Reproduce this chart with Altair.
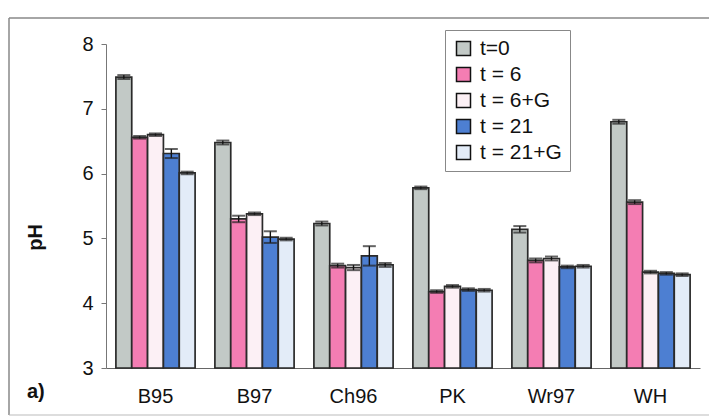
import altair as alt
import pandas as pd

sites = ["B95", "B97", "Ch96", "PK", "Wr97", "WH"]
series = ["t=0", "t = 6", "t = 6+G", "t = 21", "t = 21+G"]

t0 = [7.49, 6.48, 5.23, 5.78, 5.14, 6.80]
t6 = [6.56, 5.30, 4.58, 4.18, 4.66, 5.56]
t6g = [6.60, 5.38, 4.55, 4.26, 4.69, 4.48]
t21 = [6.31, 5.02, 4.73, 4.21, 4.56, 4.46]
t21g = [6.01, 4.99, 4.59, 4.20, 4.57, 4.44]

e_t0 = [0.03, 0.03, 0.03, 0.02, 0.05, 0.03]
e_t6 = [0.02, 0.05, 0.03, 0.02, 0.03, 0.03]
e_t6g = [0.02, 0.02, 0.04, 0.02, 0.03, 0.02]
e_t21 = [0.07, 0.09, 0.15, 0.02, 0.02, 0.02]
e_t21g = [0.02, 0.02, 0.03, 0.02, 0.02, 0.02]

colors = ["#c2c9c6", "#f47db3", "#fcf0f5", "#4d7fd2", "#e3ecf8"]

rows = []
for s, vals, errs in zip(series, [t0, t6, t6g, t21, t21g],
                         [e_t0, e_t6, e_t6g, e_t21, e_t21g]):
    for site, v, e in zip(sites, vals, errs):
        rows.append(dict(site=site, series=s, ph=v, lo=v - e, hi=v + e))
df = pd.DataFrame(rows)

FONT = "Liberation Sans"

x = alt.X("site:N", sort=sites,
          scale=alt.Scale(paddingInner=0.2, paddingOuter=0.1),
          axis=alt.Axis(title=None, labelAngle=0, labelFontSize=20, labelPadding=18,
                        ticks=False, domainColor="#666", domainWidth=1.2,
                        labelColor="#111", labelFont=FONT))
xo = alt.XOffset("series:N", sort=series)

yaxis = alt.Axis(title="pH", values=[3, 4, 5, 6, 7, 8], grid=False,
                 labelFontSize=20, labelFont=FONT, labelColor="#111",
                 labelPadding=8, tickSize=5, tickColor="#777", domainColor="#777",
                 titleFontSize=20, titleFont=FONT, titleFontWeight="bold",
                 titleColor="#111", titleX=-71, titleY=193, titleAngle=270,
                 titleAlign="center", titleBaseline="middle")
yscale = alt.Scale(domain=[3, 8], nice=False, zero=False)

base = alt.Chart(df)

bars = base.mark_bar(stroke="#2a2a2a", strokeWidth=1.7).encode(
    x=x, xOffset=xo,
    y=alt.Y("ph:Q", scale=yscale, axis=yaxis),
    y2=alt.datum(3),
    color=alt.Color("series:N", sort=series,
                    scale=alt.Scale(domain=series, range=colors),
                    legend=alt.Legend(title=None, orient="none", legendX=339, legendY=-14,
                                      symbolType="square", symbolSize=196,
                                      symbolStrokeColor="#111", symbolStrokeWidth=1.5,
                                      labelFontSize=21, labelFont=FONT, labelColor="#111",
                                      rowPadding=4, padding=8, strokeColor="#888",
                                      fillColor="white", labelOffset=6)),
)

rules = base.mark_rule(color="#111", strokeWidth=1.4).encode(
    x=x, xOffset=xo, y=alt.Y("lo:Q", scale=yscale, axis=yaxis), y2="hi:Q")
caps_hi = base.mark_tick(color="#222", thickness=2, size=13, orient="horizontal").encode(
    x=x, xOffset=xo, y=alt.Y("hi:Q", scale=yscale, axis=yaxis))
caps_lo = base.mark_tick(color="#222", thickness=2, size=13, orient="horizontal").encode(
    x=x, xOffset=xo, y=alt.Y("lo:Q", scale=yscale, axis=yaxis))

one = pd.DataFrame({"k": [0]})
frame_top = alt.Chart(one).mark_rule(color="#888", strokeWidth=1.5).encode(
    x=alt.value(-97), x2=alt.value(603), y=alt.value(-26))
frame_left = alt.Chart(one).mark_rule(color="#888", strokeWidth=1.5).encode(
    x=alt.value(-97), y=alt.value(-26), y2=alt.value(371))
frame_bottom = alt.Chart(one).mark_rule(color="#bbb", strokeWidth=1).encode(
    x=alt.value(-97), x2=alt.value(603), y=alt.value(371))
label_a = alt.Chart(one).mark_text(text="a)", fontSize=20, fontWeight="bold", font=FONT,
                                   align="left", baseline="middle", color="#111").encode(
    x=alt.value(-79), y=alt.value(348))

chart = alt.layer(frame_top, frame_left, frame_bottom, bars, rules, caps_hi, caps_lo,
                  label_a).properties(
    width=594, height=324,
    autosize=alt.AutoSizeParams(type="none"),
    padding={"left": 106, "top": 44, "right": 9, "bottom": 49},
    background="white",
).configure_view(strokeWidth=0)

chart.save("out.html", embed_options={"renderer": "svg", "actions": False})
